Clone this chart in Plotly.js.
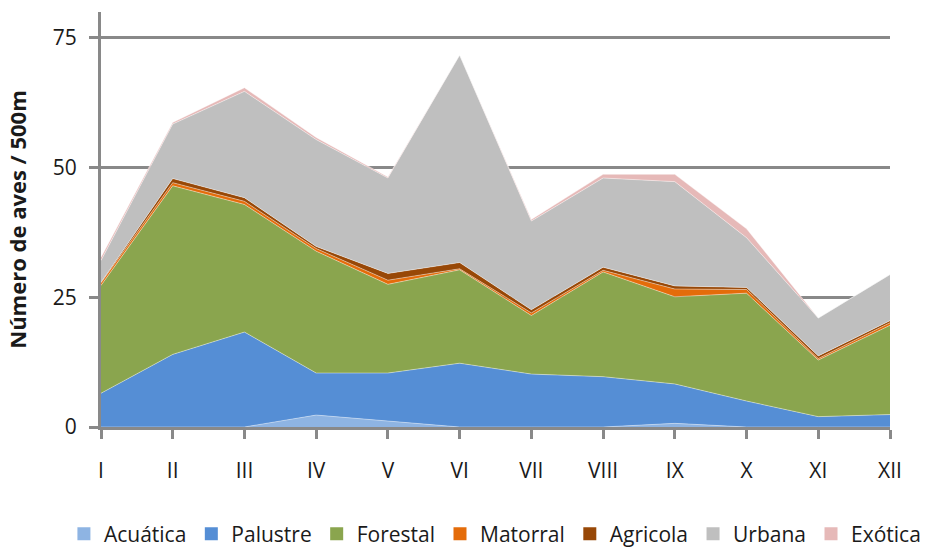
<!DOCTYPE html>
<html>
<head>
<meta charset="utf-8">
<script src="https://cdn.plot.ly/plotly-3.0.1.min.js"></script>
<style>
html,body{margin:0;padding:0;background:#fff;}
#chart{width:926px;height:549px;}
</style>
</head>
<body>
<div id="chart"></div>
<script>
const categories = ['I','II','III','IV','V','VI','VII','VIII','IX','X','XI','XII'];
const acuatica = [0, 0, 0, 2.3, 1.2, 0, 0, 0, 0.7, 0, 0, 0];
const palustre = [6.5, 14.0, 18.3, 8.1, 9.2, 12.3, 10.2, 9.7, 7.6, 5.0, 2.0, 2.4];
const forestal = [20.8, 32.5, 24.6, 23.5, 17.1, 18.0, 11.3, 20.2, 16.8, 20.8, 10.9, 17.2];
const matorral = [0.5, 0.6, 0.6, 0.5, 0.8, 0.2, 0.5, 0.3, 1.5, 0.7, 0.3, 0.5];
const agricola = [0.1, 0.8, 0.7, 0.4, 1.3, 1.2, 0.6, 0.6, 0.6, 0.4, 0.5, 0.4];
const urbana = [4.2, 10.5, 20.5, 20.6, 18.4, 40.0, 17.1, 17.2, 20.1, 9.6, 7.3, 8.9];
const exotica = [0.6, 0.3, 0.7, 0.4, 0.2, 0, 0.3, 0.7, 1.4, 1.7, 0, 0];
const yTicks = [0, 25, 50, 75];

const seriesNames = ['Acuática','Palustre','Forestal','Matorral','Agricola','Urbana','Exótica'];
const seriesData = [acuatica, palustre, forestal, matorral, agricola, urbana, exotica];
const seriesColors = ['#8EB4E3','#558ED5','#8AA54E','#E46C0A','#984807','#BFBFBF','#E6B9B8'];

const traces = [];
seriesData.forEach((vals, i) => {
  traces.push({
    type: 'scatter', mode: 'lines', x: categories, y: vals,
    stackgroup: 'one', name: seriesNames[i],
    line: {width: 0.5, color: 'rgba(255,255,255,0.8)'},
    fillcolor: seriesColors[i], showlegend: false, hoverinfo: 'skip'
  });
});
seriesData.forEach((vals, i) => {
  traces.push({
    type: 'scatter', mode: 'markers', x: [null], y: [null],
    name: seriesNames[i],
    marker: {symbol: 'square', size: 13, color: seriesColors[i]},
    showlegend: true, hoverinfo: 'skip'
  });
});

const axisGray = '#898989';
const layout = {
  width: 926, height: 549,
  margin: {l: 101, r: 36, t: 12, b: 122, autoexpand: false},
  paper_bgcolor: '#fff', plot_bgcolor: '#fff',
  font: {family: 'Open Sans, sans-serif', size: 21, color: '#1a1a1a'},
  showlegend: true,
  legend: {
    orientation: 'h', x: -0.047, xanchor: 'left', y: -0.258, yanchor: 'middle',
    font: {family: 'Open Sans, sans-serif', size: 21, color: '#1a1a1a'},
    itemwidth: 30, tracegroupgap: 0, traceorder: 'normal'
  },
  xaxis: {
    type: 'category', range: [0, 11], fixedrange: true,
    showline: true, linecolor: axisGray, linewidth: 3,
    ticks: 'outside', ticklen: 9, tickwidth: 3, tickcolor: axisGray,
    showgrid: false, zeroline: false,
    ticklabelstandoff: 14,
    tickfont: {size: 21, color: '#1a1a1a'}
  },
  yaxis: {
    range: [0, 80], tickvals: yTicks, ticktext: yTicks.map(String),
    showline: true, linecolor: axisGray, linewidth: 3,
    ticks: 'outside', ticklen: 9, tickwidth: 3, tickcolor: axisGray,
    showgrid: true, gridcolor: axisGray, gridwidth: 3, zeroline: false,
    ticklabelstandoff: 8,
    tickfont: {size: 21, color: '#1a1a1a'},
    title: {text: 'Número de aves / 500m', font: {size: 22, color: '#1a1a1a', weight: 'bold'}, standoff: 21}
  }
};

Plotly.newPlot('chart', traces, layout, {displayModeBar: false, staticPlot: true});
</script>
</body>
</html>
